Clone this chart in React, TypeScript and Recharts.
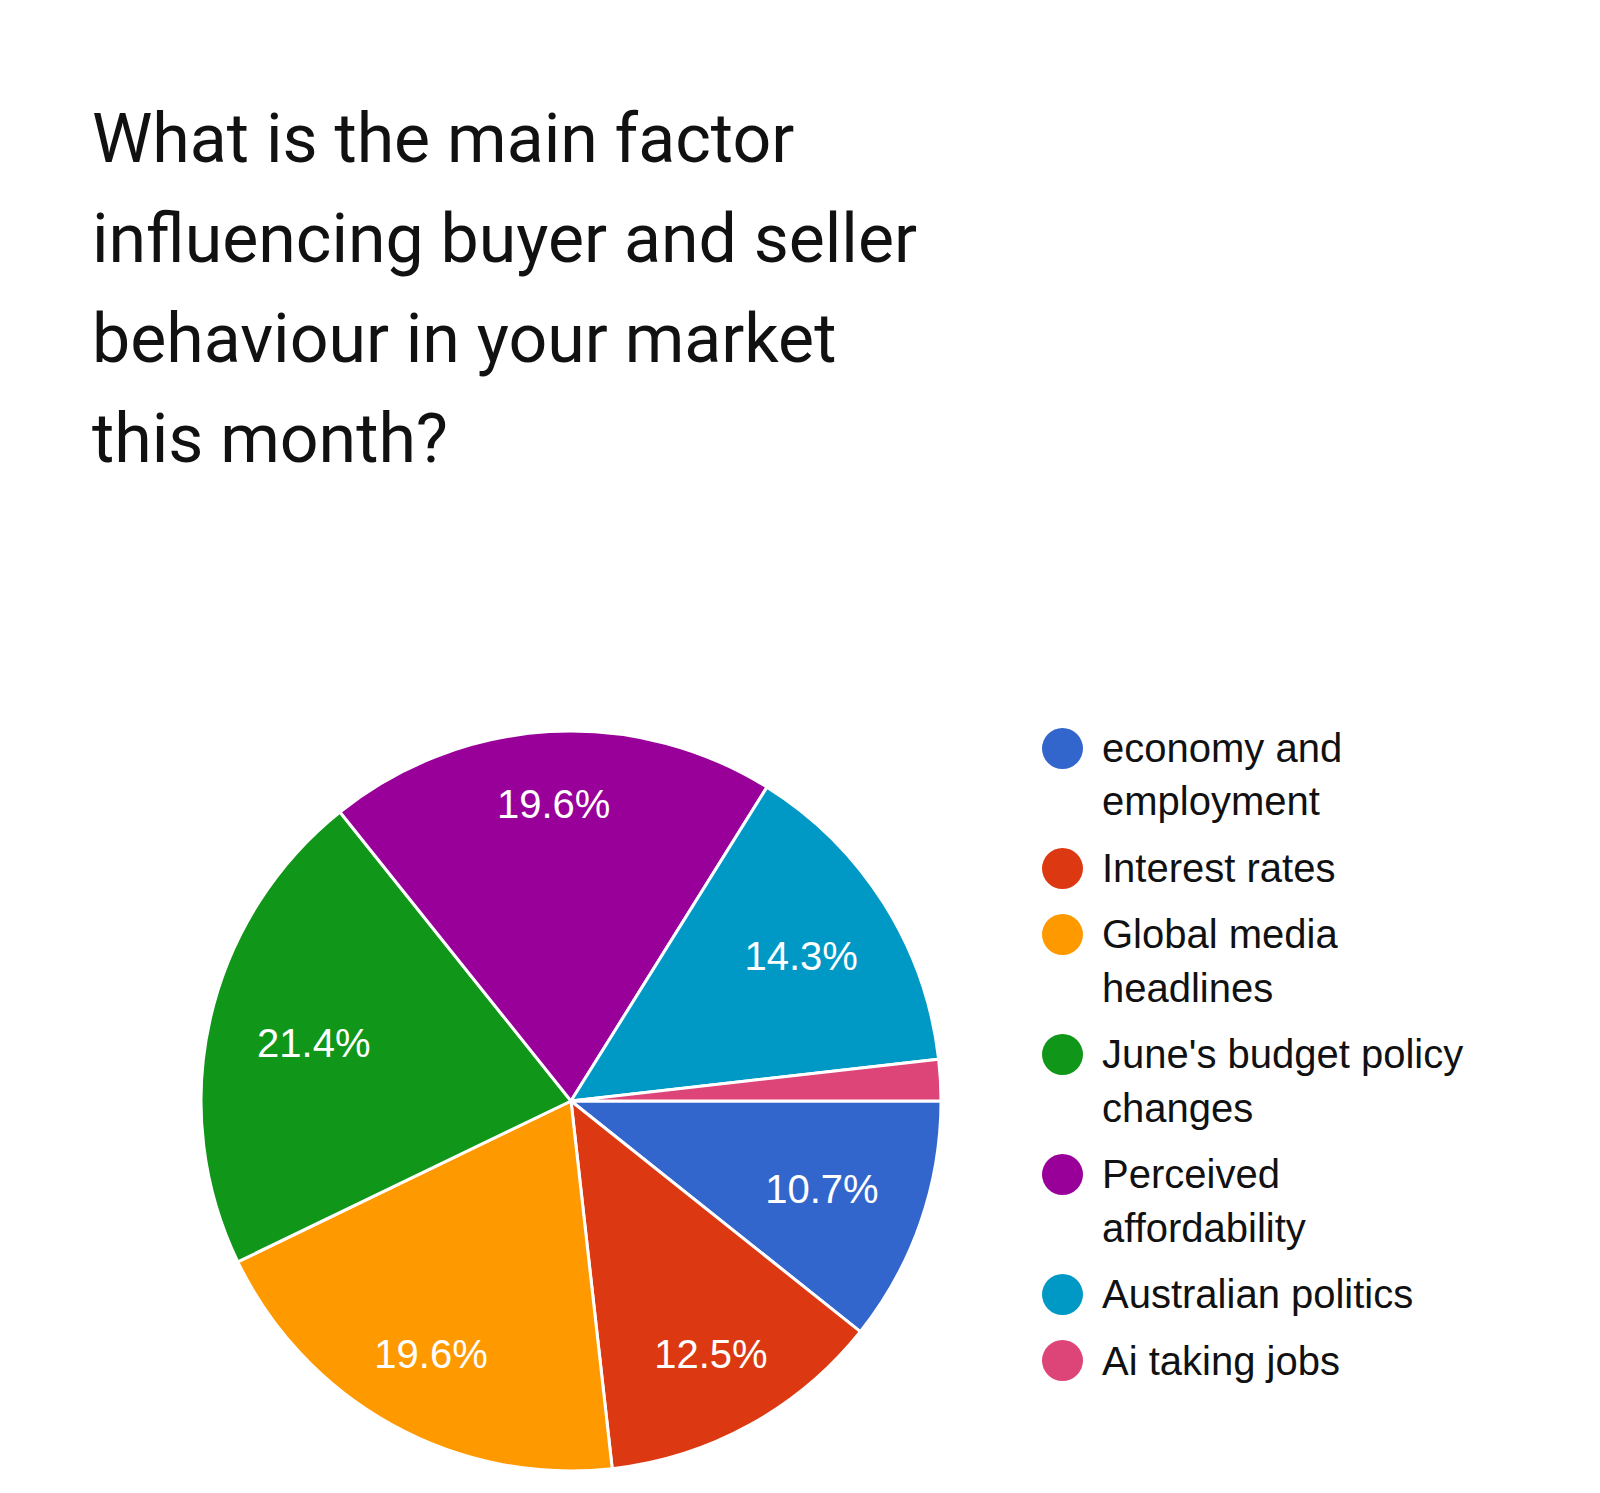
import React from "react";
import { PieChart, Pie, Cell, Legend } from "recharts";

const titleLines = [
    "What is the main factor",
    "influencing buyer and seller",
    "behaviour in your market",
    "this month?"
];

const categories = [
    "economy and employment",
    "Interest rates",
    "Global media headlines",
    "June's budget policy changes",
    "Perceived affordability",
    "Australian politics",
    "Ai taking jobs"
];

// share of responses, in percent
const shares = [10.7, 12.5, 19.6, 21.4, 19.6, 14.3, 1.8];

const colors = ["#3366cc", "#dc3912", "#ff9900", "#109618", "#990099", "#0099c6", "#dd4477"];

const data = categories.map((name, i) => ({ name, value: shares[i] }));

const RADIAN = Math.PI / 180;

const renderLabel = (props: any) => {
    const { cx, cy, midAngle, outerRadius, value } = props;
    if (value < 5) return null;
    const s = Math.sin(-midAngle * RADIAN);
    const r = outerRadius * (0.708 + 0.097 * s * s);
    const x = cx + r * Math.cos(-midAngle * RADIAN);
    const y = cy + r * s;
    return (
        <text
            x={x}
            y={y}
            fill="#ffffff"
            textAnchor="middle"
            dominantBaseline="central"
            style={{ fontFamily: "'Liberation Sans', Arial, sans-serif", fontSize: 40 }}
        >
            {`${value.toFixed(1)}%`}
        </text>
    );
};

// legend keeps the data order (the default sorter would alphabetise it)
const renderLegend = () => (
    <div style={{ fontFamily: "'Liberation Sans', Arial, sans-serif", fontSize: 40, lineHeight: "53.3px", color: "#111" }}>
        {categories.map((name, i) => (
            <div key={name} style={{ display: "flex", alignItems: "flex-start", marginBottom: 13.3 }}>
                <div style={{
                    width: 41,
                    height: 41,
                    borderRadius: "50%",
                    background: colors[i],
                    marginTop: 5.7,
                    flexShrink: 0
                }} />
                <div style={{ marginLeft: 19.5, width: 375 }}>{name}</div>
            </div>
        ))}
    </div>
);

export default function App() {
    return (
        <div style={{ position: "absolute", top: 0, left: 0, width: 1600, height: 1493, background: "#fff" }}>
            <div style={{
                position: "absolute",
                left: 92,
                top: 89,
                fontFamily: "Roboto, sans-serif",
                fontSize: 68,
                lineHeight: "100px",
                color: "#111",
                whiteSpace: "nowrap"
            }}>
                {titleLines.map((line, i) => <div key={i}>{line}</div>)}
            </div>
            <PieChart width={1600} height={1493} margin={{ top: 0, right: 0, bottom: 0, left: 0 }}>
                <Pie
                    data={data}
                    dataKey="value"
                    nameKey="name"
                    cx={571}
                    cy={1101}
                    outerRadius={370}
                    startAngle={0}
                    endAngle={-360}
                    stroke="#ffffff"
                    strokeWidth={3}
                    label={renderLabel}
                    labelLine={false}
                    legendType="circle"
                    isAnimationActive={false}
                >
                    {data.map((d, i) => <Cell key={d.name} fill={colors[i]} />)}
                </Pie>
                <Legend
                    layout="vertical"
                    align="right"
                    verticalAlign="top"
                    content={renderLegend}
                    wrapperStyle={{ top: 722, left: 1041.5, right: "auto", width: 460 }}
                />
            </PieChart>
        </div>
    );
}
